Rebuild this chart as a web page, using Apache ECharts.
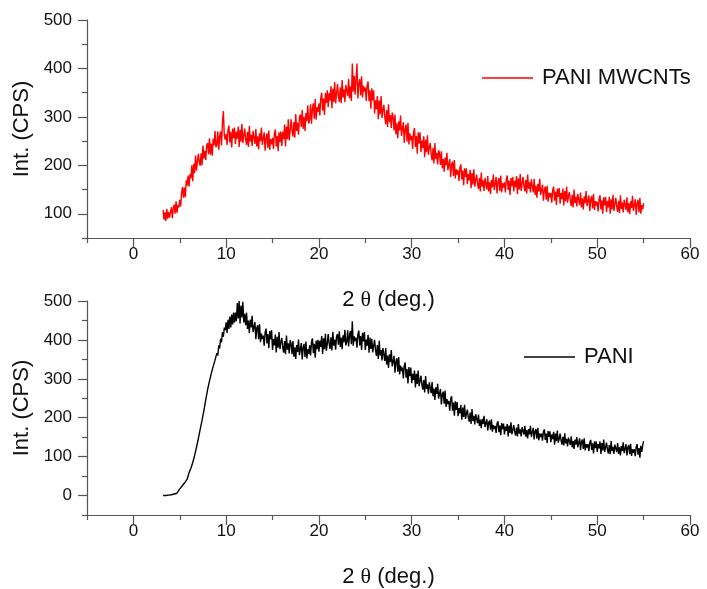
<!DOCTYPE html>
<html>
<head>
<meta charset="utf-8">
<script src="https://cdn.jsdelivr.net/npm/echarts@6/dist/echarts.min.js"></script>
<style>
html,body{margin:0;padding:0;background:#fff;}
#chart{width:707px;height:589px;}
</style>
</head>
<body>
<div id="chart"></div>
<script>
// 2-theta scan positions (deg.)
var angles = [
3.2,3.3,3.4,3.5,3.6,3.7,3.8,3.9,
4,4.1,4.2,4.3,4.4,4.5,4.6,4.7,4.8,4.9,
5,5.1,5.2,5.3,5.4,5.5,5.6,5.7,5.8,5.9,
6,6.1,6.2,6.3,6.4,6.5,6.6,6.7,6.8,6.9,
7,7.1,7.2,7.3,7.4,7.5,7.6,7.7,7.8,7.9,
8,8.1,8.2,8.3,8.4,8.5,8.6,8.7,8.8,8.9,
9,9.1,9.2,9.3,9.4,9.5,9.6,9.7,9.8,9.9,
10,10.1,10.2,10.3,10.4,10.5,10.6,10.7,10.8,10.9,
11,11.1,11.2,11.3,11.4,11.5,11.6,11.7,11.8,11.9,
12,12.1,12.2,12.3,12.4,12.5,12.6,12.7,12.8,12.9,
13,13.1,13.2,13.3,13.4,13.5,13.6,13.7,13.8,13.9,
14,14.1,14.2,14.3,14.4,14.5,14.6,14.7,14.8,14.9,
15,15.1,15.2,15.3,15.4,15.5,15.6,15.7,15.8,15.9,
16,16.1,16.2,16.3,16.4,16.5,16.6,16.7,16.8,16.9,
17,17.1,17.2,17.3,17.4,17.5,17.6,17.7,17.8,17.9,
18,18.1,18.2,18.3,18.4,18.5,18.6,18.7,18.8,18.9,
19,19.1,19.2,19.3,19.4,19.5,19.6,19.7,19.8,19.9,
20,20.1,20.2,20.3,20.4,20.5,20.6,20.7,20.8,20.9,
21,21.1,21.2,21.3,21.4,21.5,21.6,21.7,21.8,21.9,
22,22.1,22.2,22.3,22.4,22.5,22.6,22.7,22.8,22.9,
23,23.1,23.2,23.3,23.4,23.5,23.6,23.7,23.8,23.9,
24,24.1,24.2,24.3,24.4,24.5,24.6,24.7,24.8,24.9,
25,25.1,25.2,25.3,25.4,25.5,25.6,25.7,25.8,25.9,
26,26.1,26.2,26.3,26.4,26.5,26.6,26.7,26.8,26.9,
27,27.1,27.2,27.3,27.4,27.5,27.6,27.7,27.8,27.9,
28,28.1,28.2,28.3,28.4,28.5,28.6,28.7,28.8,28.9,
29,29.1,29.2,29.3,29.4,29.5,29.6,29.7,29.8,29.9,
30,30.1,30.2,30.3,30.4,30.5,30.6,30.7,30.8,30.9,
31,31.1,31.2,31.3,31.4,31.5,31.6,31.7,31.8,31.9,
32,32.1,32.2,32.3,32.4,32.5,32.6,32.7,32.8,32.9,
33,33.1,33.2,33.3,33.4,33.5,33.6,33.7,33.8,33.9,
34,34.1,34.2,34.3,34.4,34.5,34.6,34.7,34.8,34.9,
35,35.1,35.2,35.3,35.4,35.5,35.6,35.7,35.8,35.9,
36,36.1,36.2,36.3,36.4,36.5,36.6,36.7,36.8,36.9,
37,37.1,37.2,37.3,37.4,37.5,37.6,37.7,37.8,37.9,
38,38.1,38.2,38.3,38.4,38.5,38.6,38.7,38.8,38.9,
39,39.1,39.2,39.3,39.4,39.5,39.6,39.7,39.8,39.9,
40,40.1,40.2,40.3,40.4,40.5,40.6,40.7,40.8,40.9,
41,41.1,41.2,41.3,41.4,41.5,41.6,41.7,41.8,41.9,
42,42.1,42.2,42.3,42.4,42.5,42.6,42.7,42.8,42.9,
43,43.1,43.2,43.3,43.4,43.5,43.6,43.7,43.8,43.9,
44,44.1,44.2,44.3,44.4,44.5,44.6,44.7,44.8,44.9,
45,45.1,45.2,45.3,45.4,45.5,45.6,45.7,45.8,45.9,
46,46.1,46.2,46.3,46.4,46.5,46.6,46.7,46.8,46.9,
47,47.1,47.2,47.3,47.4,47.5,47.6,47.7,47.8,47.9,
48,48.1,48.2,48.3,48.4,48.5,48.6,48.7,48.8,48.9,
49,49.1,49.2,49.3,49.4,49.5,49.6,49.7,49.8,49.9,
50,50.1,50.2,50.3,50.4,50.5,50.6,50.7,50.8,50.9,
51,51.1,51.2,51.3,51.4,51.5,51.6,51.7,51.8,51.9,
52,52.1,52.2,52.3,52.4,52.5,52.6,52.7,52.8,52.9,
53,53.1,53.2,53.3,53.4,53.5,53.6,53.7,53.8,53.9,
54,54.1,54.2,54.3,54.4,54.5,54.6,54.7,54.8,54.9,
55
];

// PANI MWCNTs intensity (CPS)
var paniMwcnts = [
108,88,103,85,110,90,104,92,
94,114,91,111,119,100,126,102,118,113,
129,115,144,155,133,154,134,169,158,179,
156,182,173,200,167,203,184,220,189,207,
224,207,199,225,200,241,214,230,211,241,
246,223,256,222,245,220,255,241,271,237,
243,270,232,260,270,241,288,312,262,253,
265,242,273,282,247,269,237,276,256,278,
244,269,255,280,238,274,249,285,246,262,
276,254,242,269,238,281,249,263,240,271,
269,244,275,239,260,233,266,250,278,242,
241,268,230,257,266,236,272,232,254,243,
257,234,265,274,239,261,229,268,248,270,
240,269,254,284,239,280,254,295,252,272,
295,272,259,290,257,306,271,288,263,299,
305,279,314,275,300,271,308,291,324,286,
295,326,286,317,328,296,337,294,320,310,
328,303,339,350,313,338,304,349,329,355,
320,349,334,363,318,358,331,372,328,347,
368,344,331,361,328,376,340,357,331,366,
370,343,378,338,363,333,410,352,385,346,
350,410,338,368,378,344,384,340,364,352,
361,333,365,373,333,355,317,359,334,355,
307,334,316,343,295,334,305,343,298,314,
325,300,285,314,279,326,289,304,277,309,
300,272,305,264,287,256,291,272,303,261,
260,289,246,275,284,249,288,243,266,252,
261,234,268,277,238,261,224,268,245,268,
227,251,236,260,217,253,227,262,222,237,
246,223,210,236,204,246,213,226,202,231,
225,201,229,194,213,187,216,200,226,190,
188,213,176,201,208,178,211,173,192,181,
190,168,195,202,171,189,159,194,176,194,
161,182,169,191,153,184,160,192,156,170,
181,162,151,174,146,185,156,169,147,174,
172,150,178,146,165,141,170,155,181,149,
152,176,142,166,174,147,179,144,163,154,
165,144,171,179,149,168,139,174,157,176,
146,168,155,178,141,173,150,182,147,162,
176,157,146,170,142,181,152,165,144,171,
167,144,172,139,158,133,162,146,172,139,
138,160,127,149,156,129,158,125,143,134,
143,123,149,156,127,146,118,152,135,153,
121,143,130,152,117,147,126,156,123,137,
145,127,116,139,113,150,122,135,115,141,
138,118,144,113,132,109,136,122,147,116,
115,138,106,129,137,111,141,108,126,117,
125,105,131,138,109,128,100,134,117,135,
104,126,113,135,100,130,109,139,106,120,
133,115,104,127,101,138,110,123,103,129,
128,108,134,103,122,99,126,112,137,106,
107,130,98,121,129,103,133,100,118,109,
122
];

// PANI intensity (CPS)
var pani = [
0,0,1,0,1,0,1,1,
1,2,2,3,4,4,6,6,9,10,
17,17,23,23,29,29,35,35,42,43,
59,60,70,72,85,89,103,107,124,128,
146,150,170,173,193,196,218,222,246,250,
272,274,294,292,314,312,332,328,348,346,
366,360,386,378,403,394,420,408,432,425,
445,418,452,428,460,432,465,440,470,444,
470,448,495,455,500,442,488,458,498,445,
467,438,470,428,450,418,452,432,462,420,
418,446,402,430,438,402,440,394,416,402,
411,385,419,429,391,415,379,423,401,425,
374,402,386,414,368,408,380,420,376,394,
405,381,367,397,363,411,375,391,365,399,
390,363,397,357,381,351,387,369,401,361,
362,392,350,380,390,356,396,352,376,364,
386,360,394,404,366,390,354,398,376,400,
370,398,382,410,364,404,376,416,372,390,
415,391,377,407,373,421,385,401,375,409,
415,388,422,382,406,376,412,394,426,386,
395,425,383,413,423,389,448,385,409,397,
406,380,414,424,386,410,374,418,396,420,
374,401,385,413,367,406,377,403,368,385,
400,374,359,387,351,398,360,374,347,379,
375,346,379,337,360,328,363,343,374,332,
330,359,316,344,353,318,356,311,334,320,
329,301,334,342,303,325,288,330,307,329,
289,313,297,321,278,313,287,321,281,295,
308,285,272,297,265,307,274,286,262,291,
289,263,292,255,275,246,278,261,287,249,
249,274,234,260,267,236,270,228,248,235,
243,218,248,255,218,239,205,242,220,240,
204,225,211,233,195,226,202,233,197,210,
221,201,190,213,184,222,192,205,183,209,
206,186,208,179,195,173,197,184,205,176,
176,196,167,187,193,169,196,164,181,171,
179,161,185,191,163,180,155,186,171,185,
157,177,166,184,152,180,161,188,157,169,
181,164,154,175,152,184,159,170,152,176,
176,157,179,151,168,147,171,157,179,151,
153,174,144,165,171,146,174,142,160,150,
159,141,164,170,143,159,135,166,151,165,
137,157,145,164,131,159,140,167,136,146,
159,142,131,151,129,160,134,146,126,149,
149,130,152,124,140,120,144,131,150,124,
126,147,117,138,144,120,147,116,132,123,
132,114,137,143,117,134,108,139,122,139,
112,132,121,139,107,135,116,144,112,124,
136,119,108,130,106,140,114,125,107,131,
131,112,135,107,124,103,127,115,137,109,
111,132,103,124,130,106,133,102,119,110,
119,101,125,132,105,122,97,128,112,129,
140
];

// Axis ticks
var xMajorTicks = [0,10,20,30,40,50,60];
var xMinorTicks = [-5,5,15,25,35,45,55];
var yTopMajor = [100,200,300,400,500];
var yTopMinor = [50,150,250,350,450];
var yBotMajor = [0,100,200,300,400,500];
var yBotMinor = [-50,50,150,250,350,450];

var seriesNames = ['PANI MWCNTs','PANI'];
var xName = '2 {t|θ} (deg.)';
var yName = 'Int. (CPS)';

function pairs(xs, ys){ return xs.map(function(x,i){ return [x, ys[i]]; }); }

var FONT = 'Liberation Sans';
var AXIS_COLOR = '#555';
var LABEL_COLOR = '#111';

function mainX(gridIndex){
  return {
    type:'value', gridIndex:gridIndex, position:'bottom', min:-5, max:60,
    name: xName, nameLocation:'middle', nameGap:51,
    nameTextStyle:{fontFamily:FONT, fontSize:22, color:LABEL_COLOR,
      rich:{t:{fontFamily:'Liberation Serif', fontSize:22, color:LABEL_COLOR}}},
    axisLine:{show:true, onZero:false, lineStyle:{color:AXIS_COLOR, width:1.2}},
    axisTick:{show:true, inside:false, length:10, customValues:xMajorTicks, lineStyle:{color:AXIS_COLOR, width:1.2}},
    axisLabel:{show:true, margin:8, customValues:xMajorTicks, fontFamily:FONT, fontSize:17, color:LABEL_COLOR},
    splitLine:{show:false}
  };
}
function minorX(gridIndex){
  return {
    type:'value', gridIndex:gridIndex, position:'bottom', min:-5, max:60,
    axisLine:{show:false, onZero:false},
    axisTick:{show:true, inside:false, length:5, customValues:xMinorTicks, lineStyle:{color:AXIS_COLOR, width:1.2}},
    axisLabel:{show:false},
    splitLine:{show:false}
  };
}
function mainY(gridIndex, mn, majors){
  return {
    type:'value', gridIndex:gridIndex, position:'left', min:mn, max:500,
    name: yName, nameLocation:'middle', nameGap:47, nameRotate:90,
    nameTextStyle:{fontFamily:FONT, fontSize:22, color:LABEL_COLOR},
    axisLine:{show:true, onZero:false, lineStyle:{color:AXIS_COLOR, width:1.2}},
    axisTick:{show:true, inside:false, length:9, customValues:majors, lineStyle:{color:AXIS_COLOR, width:1.2}},
    axisLabel:{show:true, margin:15, customValues:majors, fontFamily:FONT, fontSize:17, color:LABEL_COLOR},
    splitLine:{show:false}
  };
}
function minorY(gridIndex, mn, minors){
  return {
    type:'value', gridIndex:gridIndex, position:'left', min:mn, max:500,
    axisLine:{show:false, onZero:false},
    axisTick:{show:true, inside:false, length:5, customValues:minors, lineStyle:{color:AXIS_COLOR, width:1.2}},
    axisLabel:{show:false},
    splitLine:{show:false}
  };
}

var chart = echarts.init(document.getElementById('chart'), null, {renderer:'canvas'});
chart.setOption({
  animation:false,
  backgroundColor:'#fff',
  grid:[
    {left:87, width:603, top:20, height:218},
    {left:87, width:603, top:301, height:218}
  ],
  xAxis:[mainX(0), minorX(0), mainX(1), minorX(1)],
  yAxis:[mainY(0,50,yTopMajor), minorY(0,50,yTopMinor), mainY(1,-50,yBotMajor), minorY(1,-50,yBotMinor)],
  legend:[
    {data:[seriesNames[0]], left:482, top:67, padding:0, icon:'rect', itemWidth:51, itemHeight:1.5,
     textStyle:{fontFamily:FONT, fontSize:22, color:LABEL_COLOR, padding:[0,0,0,4]}},
    {data:[seriesNames[1]], left:524, top:346, padding:0, icon:'rect', itemWidth:51, itemHeight:1.5,
     textStyle:{fontFamily:FONT, fontSize:22, color:LABEL_COLOR, padding:[0,0,0,4]}}
  ],
  series:[
    {name:seriesNames[0], type:'line', xAxisIndex:0, yAxisIndex:0, data:pairs(angles, paniMwcnts),
     showSymbol:false, symbol:'none', color:'#ff0000', lineStyle:{color:'#ff0000', width:1.4}},
    {name:seriesNames[1], type:'line', xAxisIndex:2, yAxisIndex:2, data:pairs(angles, pani),
     showSymbol:false, symbol:'none', color:'#000000', lineStyle:{color:'#000000', width:1.4}}
  ]
});
</script>
</body>
</html>
